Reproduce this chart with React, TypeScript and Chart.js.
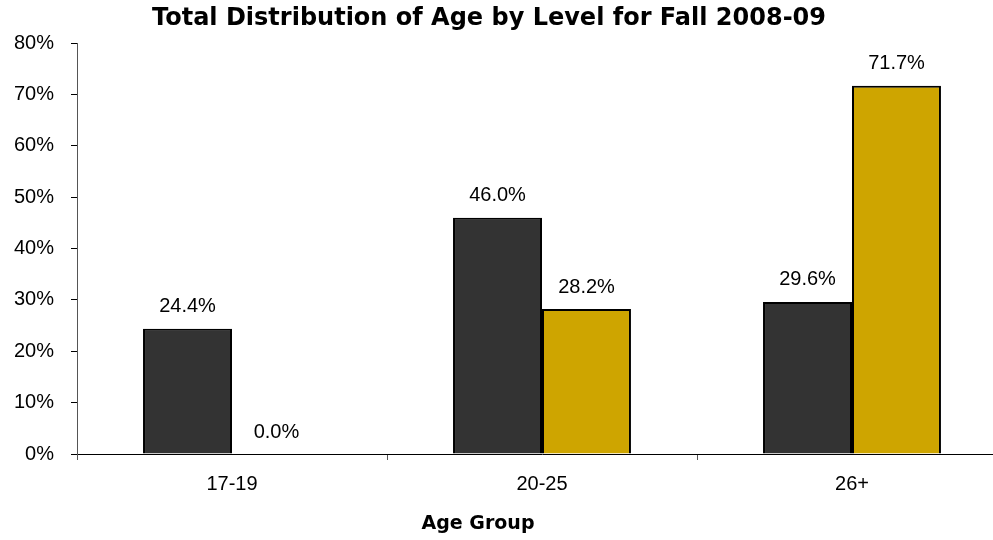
import React, { useEffect, useRef } from "react";
import { Chart, registerables } from "chart.js";

Chart.register(...registerables);

const categories = ["17-19", "20-25", "26+"];
const seriesDark = [24.4, 46.0, 29.6];
const seriesGold = [0.0, 28.2, 71.7];
const seriesNames = ["Level A", "Level B"];
const titleText = "Total Distribution of Age by Level for Fall 2008-09";
const xTitleText = "Age Group";

const SANS = "'Liberation Sans', Arimo, Arial, sans-serif";
const VERD = "'DejaVu Sans', Verdana, sans-serif";

const labelPlugin = {
  id: "customText",
  afterDraw(chart: any) {
    const ctx = chart.ctx;
    ctx.save();
    ctx.fillStyle = "#000";
    ctx.font = "20px " + SANS;
    ctx.textAlign = "center";
    ctx.textBaseline = "middle";
    chart.data.datasets.forEach((ds: any, i: number) => {
      const meta = chart.getDatasetMeta(i);
      meta.data.forEach((bar: any, j: number) => {
        const v = ds.data[j];
        ctx.fillText(v.toFixed(1) + "%", bar.x, bar.y - 22);
      });
    });
    ctx.font = "bold 24px " + VERD;
    ctx.fillText(titleText, 489, 19);
    ctx.font = "bold 19px " + VERD;
    ctx.fillText(xTitleText, 478, 524);
    ctx.restore();
  },
};

export default function App() {
  const ref = useRef<HTMLCanvasElement | null>(null);
  useEffect(() => {
    let chart: any = null;
    let cancelled = false;
    const make = () => {
      if (cancelled || !ref.current) return;
      chart = new Chart(ref.current, {
        type: "bar",
        data: {
          labels: categories,
          datasets: [
            {
              label: seriesNames[0],
              data: seriesDark,
              backgroundColor: "#333333",
              borderColor: "#000000",
              borderWidth: 2,
              categoryPercentage: 0.574,
              barPercentage: 1,
            },
            {
              label: seriesNames[1],
              data: seriesGold,
              backgroundColor: "#CEA500",
              borderColor: "#000000",
              borderWidth: 2,
              categoryPercentage: 0.574,
              barPercentage: 1,
            },
          ],
        },
        options: {
          animation: false,
          responsive: false,
          maintainAspectRatio: false,
          layout: { padding: { left: 0, right: 3, top: 43, bottom: 0 } },
          plugins: {
            legend: { display: false },
            title: { display: false },
            tooltip: { enabled: false },
          },
          scales: {
            x: {
              offset: true,
              grid: {
                offset: true,
                drawOnChartArea: false,
                drawTicks: true,
                tickLength: 6,
                color: "#555",
              },
              border: { color: "#000", width: 1 },
              ticks: {
                color: "#000",
                font: { family: SANS, size: 20 },
                padding: 12,
              },
              afterFit: (s: any) => {
                s.height = 86;
              },
            },
            y: {
              min: 0,
              max: 80,
              ticks: {
                stepSize: 10,
                color: "#000",
                font: { family: SANS, size: 20 },
                padding: 17,
                callback: (v: any) => v + "%",
              },
              grid: {
                drawOnChartArea: false,
                drawTicks: true,
                tickLength: 6,
                color: "#000",
              },
              border: { color: "#555", width: 1 },
              afterFit: (s: any) => {
                s.width = 77;
              },
            },
          },
        },
        plugins: [labelPlugin],
      });
    };
    const fonts: any = (document as any).fonts;
    if (fonts && fonts.load) {
      Promise.all([
        fonts.load("20px 'Liberation Sans'"),
        fonts.load("bold 24px 'DejaVu Sans'"),
      ])
        .catch(() => null)
        .then(make);
    } else {
      make();
    }
    return () => {
      cancelled = true;
      if (chart) chart.destroy();
    };
  }, []);
  return (
    <div
      style={{
        position: "fixed",
        left: 0,
        top: 0,
        width: 993,
        height: 540,
        overflow: "hidden",
        background: "#fff",
      }}
    >
      <canvas ref={ref} width={1010} height={540} style={{ display: "block" }} />
    </div>
  );
}
